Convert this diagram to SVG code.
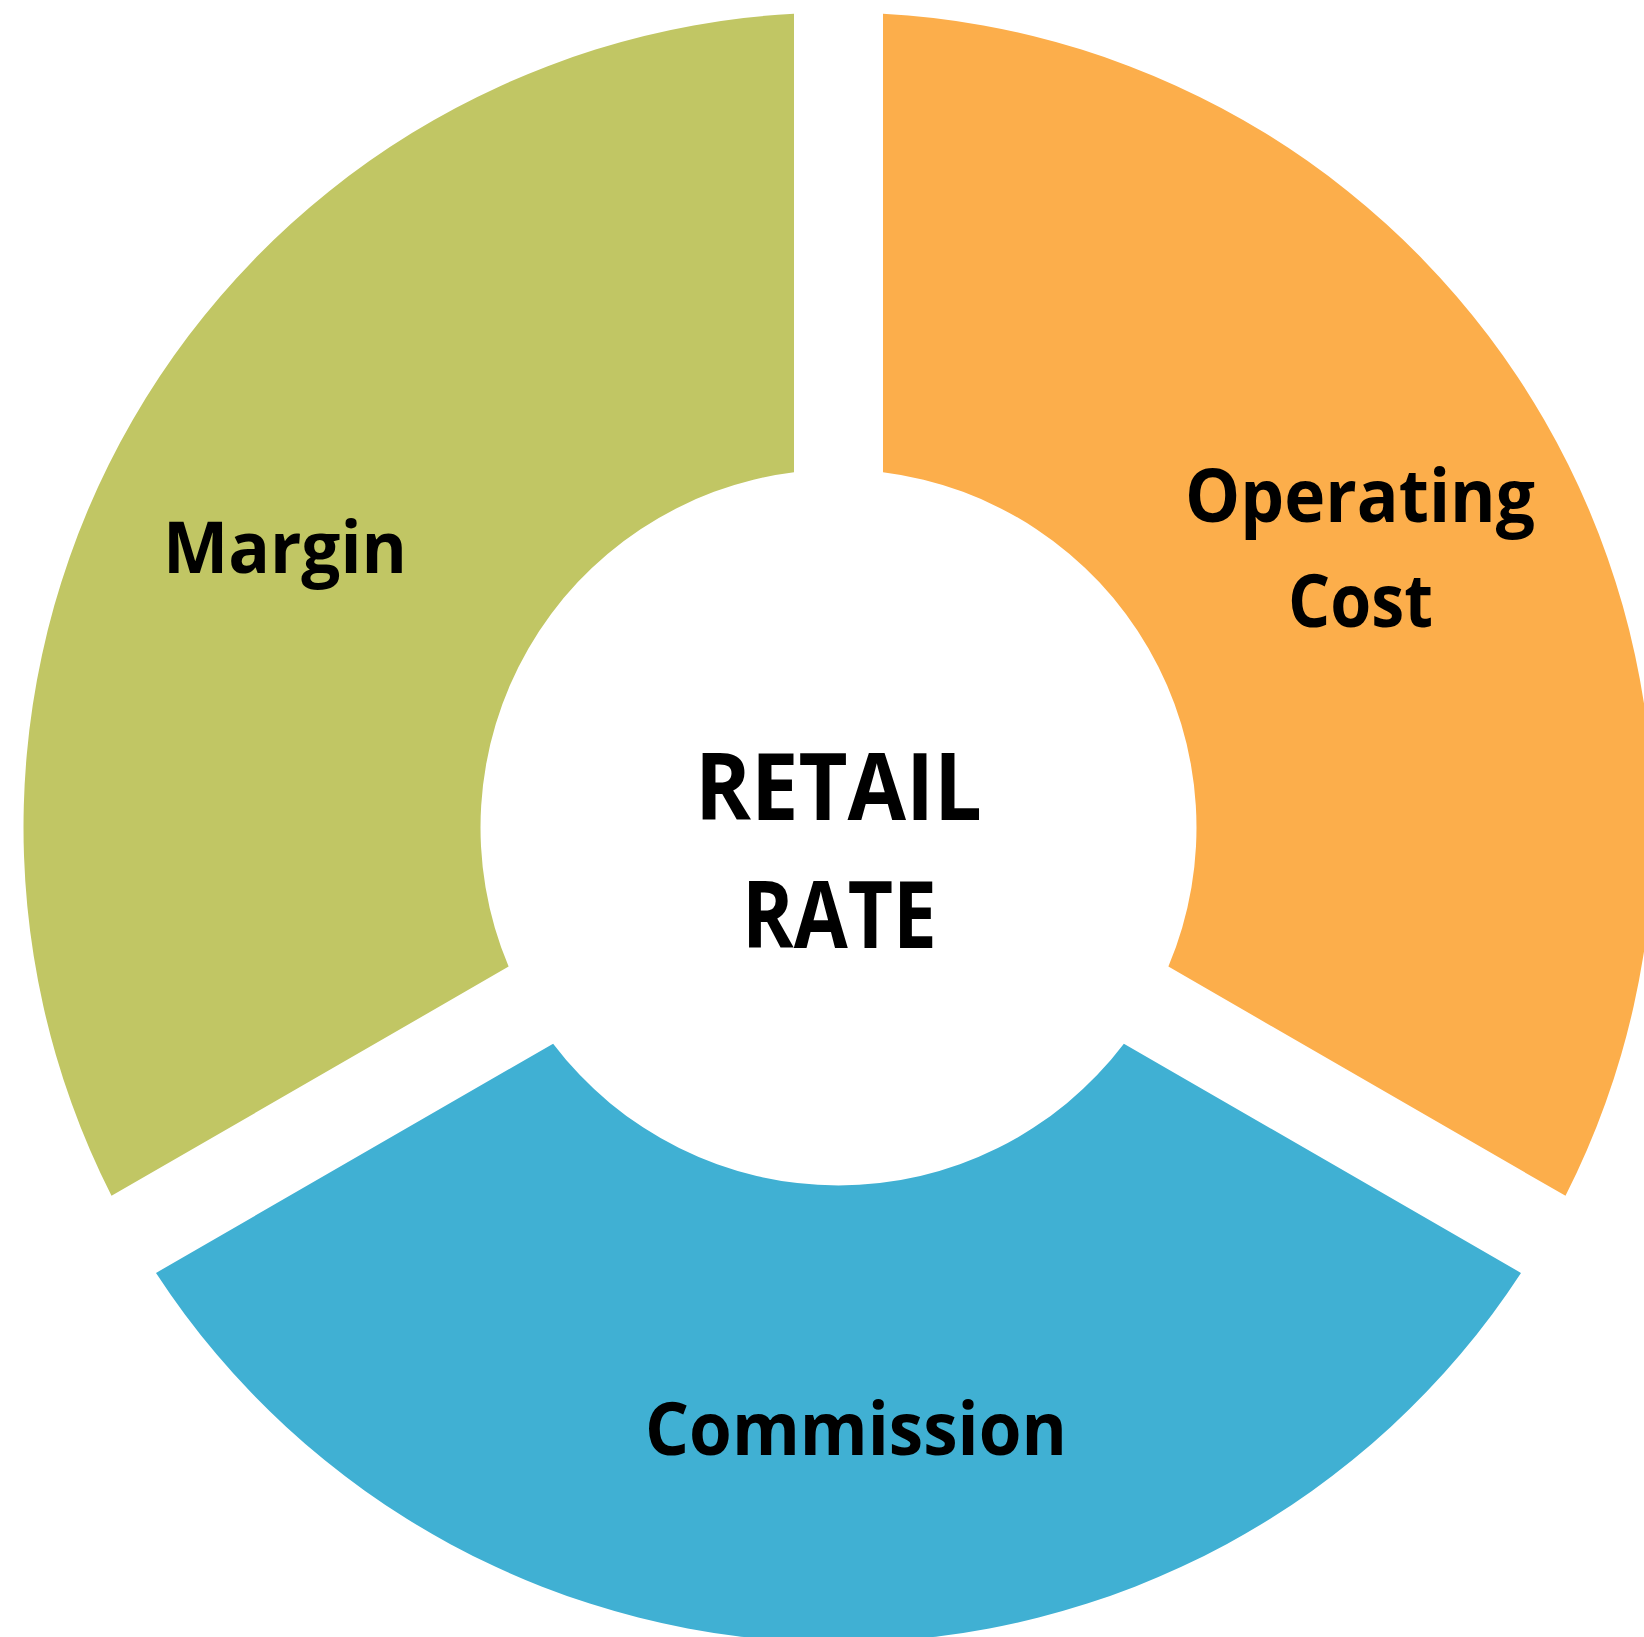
<svg xmlns="http://www.w3.org/2000/svg" width="1644" height="1637" viewBox="0 0 1644 1637">
<style>
.lbl{font-family:"Open Sans","Liberation Sans",sans-serif;font-weight:700;fill:#000;text-anchor:middle}
.seg{stroke:none}
</style>
<rect width="1644" height="1637" fill="#ffffff"/>
<g id="margin">
<path class="seg" fill="#C1C664" d="M794,13.72 L794,472.28 A358,358 0 0 0 508.62,966.57 L111.5,1195.85 A815,815 0 0 1 794,13.72 Z"/>
<text class="lbl" x="285" y="573" font-size="72" textLength="244" lengthAdjust="spacingAndGlyphs">Margin</text>
</g>
<g id="operating-cost">
<path class="seg" fill="#FCAE4B" d="M883,13.72 A815,815 0 0 1 1565.5,1195.85 L1168.38,966.57 A358,358 0 0 0 883,472.28 Z"/>
<text class="lbl" x="1360" y="522" font-size="74" textLength="350" lengthAdjust="spacingAndGlyphs">Operating</text>
<text class="lbl" x="1360.5" y="627" font-size="74" textLength="145" lengthAdjust="spacingAndGlyphs">Cost</text>
</g>
<g id="commission">
<path class="seg" fill="#40B0D3" d="M1521,1272.93 A815,815 0 0 1 156,1272.93 L553.12,1043.65 A358,358 0 0 0 1123.88,1043.65 Z"/>
<text class="lbl" x="856" y="1455" font-size="73" textLength="422" lengthAdjust="spacingAndGlyphs">Commission</text>
</g>
<g id="retail-rate">
<text class="lbl" x="838.5" y="820" font-size="94" textLength="287" lengthAdjust="spacingAndGlyphs">RETAIL</text>
<text class="lbl" x="839.5" y="948" font-size="94" textLength="195" lengthAdjust="spacingAndGlyphs">RATE</text>
</g>
</svg>
